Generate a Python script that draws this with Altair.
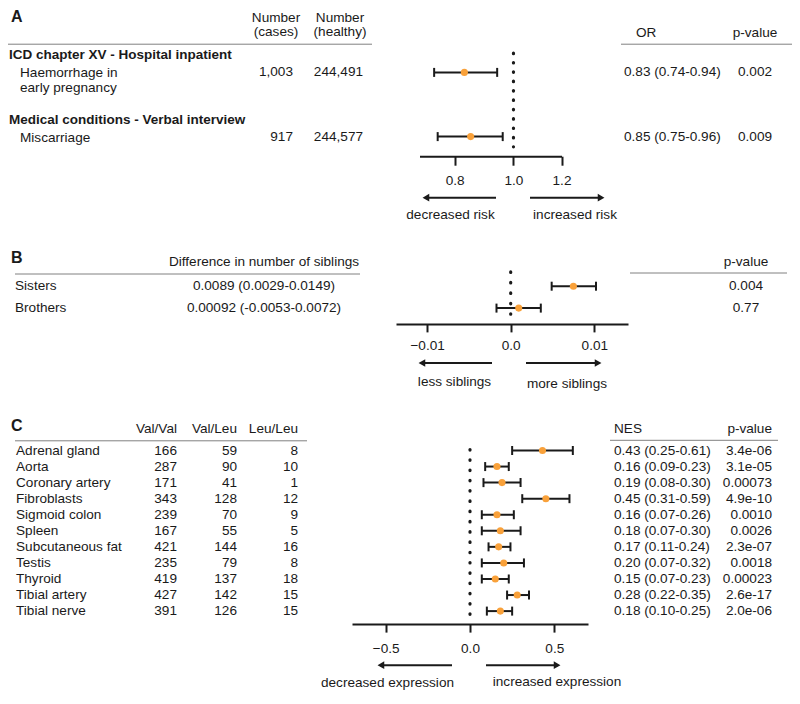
import altair as alt
import pandas as pd

# ------------------------------------------------------------------ data
# Panel A: odds ratios
a_groups = ["ICD chapter XV - Hospital inpatient",
            "Medical conditions - Verbal interview"]
a_outcomes = ["Haemorrhage in\nearly pregnancy", "Miscarriage"]
a_cases = ["1,003", "917"]
a_healthy = ["244,491", "244,577"]
a_or = [0.83, 0.85]
a_or_lo = [0.74, 0.75]
a_or_hi = [0.94, 0.96]
a_or_labels = ["0.83 (0.74-0.94)", "0.85 (0.75-0.96)"]
a_pvalues = ["0.002", "0.009"]

# Panel B: difference in number of siblings
b_siblings = ["Sisters", "Brothers"]
b_diff_labels = ["0.0089 (0.0029-0.0149)", "0.00092 (-0.0053-0.0072)"]
b_diff = [0.0075, 0.00096]
b_diff_lo = [0.0049, -0.0017]
b_diff_hi = [0.0102, 0.0036]
b_pvalues = ["0.004", "0.77"]

# Panel C: normalized effect size per tissue
c_tissues = ["Adrenal gland", "Aorta", "Coronary artery", "Fibroblasts",
             "Sigmoid colon", "Spleen", "Subcutaneous fat", "Testis",
             "Thyroid", "Tibial artery", "Tibial nerve"]
c_valval = [166, 287, 171, 343, 239, 167, 421, 235, 419, 427, 391]
c_valleu = [59, 90, 41, 128, 70, 55, 144, 79, 137, 142, 126]
c_leuleu = [8, 10, 1, 12, 9, 5, 16, 8, 18, 15, 15]
c_nes = [0.43, 0.16, 0.19, 0.45, 0.16, 0.18, 0.17, 0.20, 0.15, 0.28, 0.18]
c_nes_lo = [0.25, 0.09, 0.08, 0.31, 0.07, 0.07, 0.11, 0.07, 0.07, 0.22, 0.10]
c_nes_hi = [0.61, 0.23, 0.30, 0.59, 0.26, 0.30, 0.24, 0.32, 0.23, 0.35, 0.25]
c_pvalues = ["3.4e-06", "3.1e-05", "0.00073", "4.9e-10", "0.0010", "0.0026",
             "2.3e-07", "0.0018", "0.00023", "2.6e-17", "2.0e-06"]

# ------------------------------------------------------------------ layout
W, H = 784, 682
FONT = "Liberation Sans"
FS = 13.6
INK = "#1a1a1a"
GRID = "#808080"
ORANGE = "#F9A13A"
ONE = pd.DataFrame({"k": [0]})


def X(r):
    return max(r - 8, 0)


def Y(r):
    return round((r - 5) * 0.978, 1)


def label(text, x, y, align="left", bold=False, size=FS):
    return alt.Chart(ONE).mark_text(
        text=text, align=align, baseline="middle", font=FONT, fontSize=size,
        fontWeight="bold" if bold else "normal", color=INK
    ).encode(x=alt.value(X(x)), y=alt.value(Y(y)))


def hline(x1, x2, y, color=GRID, width=1):
    return alt.Chart(ONE).mark_rule(color=color, strokeWidth=width).encode(
        x=alt.value(X(x1)), x2=alt.value(min(X(x2), W)), y=alt.value(Y(y)))


def arrow(tail, tip, y):
    d = 1 if tip > tail else -1
    shaft = alt.Chart(ONE).mark_rule(color=INK, strokeWidth=2).encode(
        x=alt.value(X(tail)), x2=alt.value(X(tip) - d * 3), y=alt.value(Y(y)))
    head = alt.Chart(ONE).mark_point(
        shape="triangle-right" if d > 0 else "triangle-left", filled=True,
        size=60, color=INK, opacity=1, strokeWidth=0
    ).encode(x=alt.value(X(tip) - d * 3.9), y=alt.value(Y(y)))
    return [shaft, head]


def column(df, field, x, yscale, align="left", baseline="middle", **kw):
    return alt.Chart(df).mark_text(
        align=align, baseline=baseline, font=FONT, fontSize=FS, color=INK, **kw
    ).encode(x=alt.value(X(x)), y=alt.Y("row:Q", scale=yscale, axis=None),
             text=alt.Text(f"{field}:N"))


def xaxis(values, axis_y, tick=8, pad=8, fmt=None, expr=None):
    kw = dict(orient="bottom", offset=Y(axis_y) - H, values=values, title=None,
              grid=False, tickSize=tick, tickWidth=2, domainWidth=2,
              domainColor=INK, tickColor=INK, labelColor=INK, labelFont=FONT,
              labelFontSize=FS, labelPadding=pad, labelFlush=False,
              labelOverlap=False)
    if fmt:
        kw["format"] = fmt
    if expr:
        kw["labelExpr"] = expr
    return alt.Axis(**kw)


def forest(df, xscale, xax, yscale, ref, y0, y1, gap, cap=9):
    yenc = alt.Y("row:Q", scale=yscale, axis=None)

    def xe(f):
        return alt.X(f"{f}:Q", scale=xscale, axis=xax)

    dots = alt.Chart(ONE).mark_rule(
        color=INK, strokeWidth=3.2, strokeCap="round", strokeDash=[0.5, gap]
    ).encode(
        x=alt.X(datum=ref, type="quantitative", scale=xscale, axis=xax),
        y=alt.Y(datum=y0, type="quantitative", scale=yscale, axis=None),
        y2=alt.Y2(datum=y1))
    ci = alt.Chart(df).mark_rule(color=INK, strokeWidth=2).encode(
        x=xe("lo"), x2=alt.X2("hi"), y=yenc)
    lo = alt.Chart(df).mark_tick(orient="vertical", color=INK, thickness=2,
                                 size=cap, opacity=1).encode(x=xe("lo"), y=yenc)
    hi = alt.Chart(df).mark_tick(orient="vertical", color=INK, thickness=2,
                                 size=cap, opacity=1).encode(x=xe("hi"), y=yenc)
    pt = alt.Chart(df).mark_circle(size=50, color=ORANGE, opacity=1).encode(
        x=xe("est"), y=yenc)
    return [dots, ci, lo, hi, pt]


# ------------------------------------------------------------------ panel A
dfA = pd.DataFrame({"row": [0, 1], "outcome": a_outcomes, "cases": a_cases,
                    "healthy": a_healthy, "est": a_or, "lo": a_or_lo,
                    "hi": a_or_hi, "orl": a_or_labels, "p": a_pvalues})
yA = alt.Scale(domain=[0, 1], range=[Y(70.8), Y(136.5)], zero=False, nice=False)
xA = alt.Scale(type="log", domain=[0.7, 1.2], range=[X(419.5), X(561.5)], nice=False)
axA = xaxis([0.8, 1.0, 1.2], 156.5, tick=9, pad=8, fmt=".1f")
panelA = alt.layer(
    *forest(dfA, xA, axA, yA, 1.0, -0.30, 1.16, 8.86),
    column(dfA, "outcome", 20, yA, baseline="top", dy=-6, lineBreak="\n", lineHeight=15),
    column(dfA, "cases", 293, yA, align="right"),
    column(dfA, "healthy", 363, yA, align="right"),
    column(dfA, "orl", 624, yA),
    column(dfA, "p", 755, yA, align="center"),
)

# ------------------------------------------------------------------ panel B
dfB = pd.DataFrame({"row": [0, 1], "name": b_siblings, "dl": b_diff_labels,
                    "est": b_diff, "lo": b_diff_lo, "hi": b_diff_hi, "p": b_pvalues})
yB = alt.Scale(domain=[0, 1], range=[Y(289.5), Y(311.8)], zero=False, nice=False)
xB = alt.Scale(domain=[-0.01372, 0.01403], range=[X(396), X(628)], zero=False, nice=False)
axB = xaxis([-0.01, 0, 0.01], 328, tick=8, pad=7,
            expr="datum.value == 0 ? '0.0' : format(datum.value, '.2f')")
panelB = alt.layer(
    *forest(dfB, xB, axB, yB, 0.0, -0.65, 1.28, 9.96),
    column(dfB, "name", 15, yB),
    column(dfB, "dl", 264, yB, align="center"),
    column(dfB, "p", 746, yB, align="center"),
)

# ------------------------------------------------------------------ panel C
dfC = pd.DataFrame({
    "row": list(range(len(c_tissues))), "tissue": c_tissues,
    "vv": c_valval, "vl": c_valleu, "ll": c_leuleu,
    "est": c_nes, "lo": c_nes_lo, "hi": c_nes_hi,
    "nl": [f"{e:.2f} ({l:.2f}-{h:.2f})" for e, l, h in zip(c_nes, c_nes_lo, c_nes_hi)],
    "p": c_pvalues})
yC = alt.Scale(domain=[0, 10], range=[Y(457.5), Y(621.7)], zero=False, nice=False)
xC = alt.Scale(domain=[-0.7, 0.7], range=[X(352), X(588)], zero=False, nice=False)
axC = xaxis([-0.5, 0, 0.5], 635, tick=8, pad=9, fmt=".1f")
panelC = alt.layer(
    *forest(dfC, xC, axC, yC, 0.0, -0.06, 10.23, 9.77),
    column(dfC, "tissue", 16, yC),
    column(dfC, "vv", 177, yC, align="right"),
    column(dfC, "vl", 237, yC, align="right"),
    column(dfC, "ll", 298, yC, align="right"),
    column(dfC, "nl", 614, yC),
    column(dfC, "p", 772, yC, align="right"),
)

# ------------------------------------------------------------------ annotations
annots = [
    # A
    label("A", 11, 14, bold=True, size=16),
    label("Number", 276, 15.5, align="center"),
    label("(cases)", 276, 30, align="center"),
    label("Number", 340, 15.5, align="center"),
    label("(healthy)", 340, 30, align="center"),
    hline(0, 372, 42),
    label(a_groups[0], 9, 53, bold=True, size=13.5),
    label(a_groups[1], 9, 119, bold=True, size=13.5),
    label("OR", 636, 30.5),
    label("p-value", 755, 30.5, align="center"),
    hline(621, 798, 42),
    *arrow(496, 422, 199), *arrow(530, 605, 199),
    label("decreased risk", 450.5, 217, align="center"),
    label("increased risk", 575, 217, align="center"),
    # B
    label("B", 11, 261, bold=True, size=16),
    label("Difference in number of siblings", 264, 265, align="center"),
    label("p-value", 746, 265, align="center"),
    hline(15, 360, 277), hline(630, 787, 276),
    *arrow(492, 418, 368), *arrow(526, 602, 368),
    label("less siblings", 454.5, 387, align="center"),
    label("more siblings", 567, 389, align="center"),
    # C
    label("C", 11, 432, bold=True, size=16),
    label("Val/Val", 177, 435, align="right"),
    label("Val/Leu", 237, 435, align="right"),
    label("Leu/Leu", 298, 435, align="right"),
    label("NES", 614, 435),
    label("p-value", 772, 435, align="right"),
    hline(15, 307, 447.5), hline(610, 778, 447),
    *arrow(452, 377, 677), *arrow(486, 561, 677),
    label("decreased expression", 387.5, 695, align="center"),
    label("increased expression", 557, 694, align="center"),
]

chart = alt.layer(panelA, panelB, panelC, *annots).resolve_scale(
    x="independent", y="independent"
).properties(
    width=W, height=H, padding=0, background="white",
    autosize=alt.AutoSizeParams(type="none"),
).configure_view(stroke=None)

chart.save("out.html", embed_options={"renderer": "svg", "actions": False})
